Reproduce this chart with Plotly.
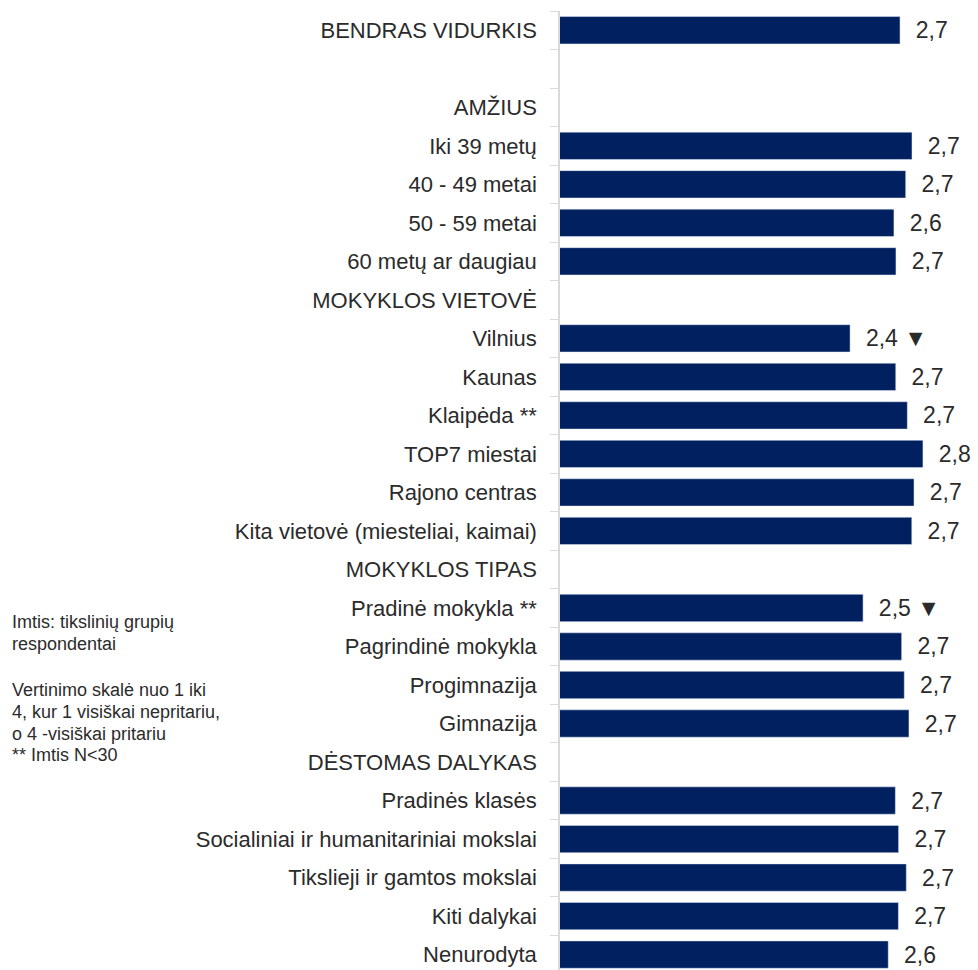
import plotly.graph_objects as go

# rows top to bottom; section headers and the spacer row have no bar
categories = [
    "BENDRAS VIDURKIS", " ",
    "AMŽIUS", "Iki 39 metų", "40 - 49 metai", "50 - 59 metai", "60 metų ar daugiau",
    "MOKYKLOS VIETOVĖ", "Vilnius", "Kaunas", "Klaipėda **", "TOP7 miestai",
    "Rajono centras", "Kita vietovė (miesteliai, kaimai)",
    "MOKYKLOS TIPAS", "Pradinė mokykla **", "Pagrindinė mokykla", "Progimnazija", "Gimnazija",
    "DĖSTOMAS DALYKAS", "Pradinės klasės", "Socialiniai ir humanitariniai mokslai",
    "Tikslieji ir gamtos mokslai", "Kiti dalykai", "Nenurodyta",
]
values = [
    2.675, None,
    None, 2.734, 2.703, 2.645, 2.655,
    None, 2.429, 2.654, 2.711, 2.788, 2.744, 2.733,
    None, 2.493, 2.683, 2.696, 2.719,
    None, 2.652, 2.668, 2.706, 2.667, 2.617,
]
value_labels = [
    "2,7", "",
    "", "2,7", "2,7", "2,6", "2,7",
    "", "2,4 ▼", "2,7", "2,7", "2,8", "2,7", "2,7",
    "", "2,5 ▼", "2,7", "2,7", "2,7",
    "", "2,7", "2,7", "2,7", "2,7", "2,6",
]
note_lines = [
    "Imtis: tikslinių grupių", "respondentai", "",
    "Vertinimo skalė nuo 1 iki", "4, kur 1 visiškai nepritariu,",
    "o 4 -visiškai pritariu", "** Imtis N<30",
]

FONT = "Liberation Sans, Arial, sans-serif"
TXT = "#2b2b2b"
W, H = 978, 970
L, T = 560, 11
PLOT_W, PLOT_H = W - L, H - T

fig = go.Figure(go.Bar(
    x=values, y=categories, orientation="h",
    marker=dict(color="#002060"),
    text=["  " + t if t else "" for t in value_labels],
    textposition="outside", constraintext="none", cliponaxis=False,
    textfont=dict(family=FONT, size=23, color=TXT),
    hoverinfo="skip",
))

fig.update_xaxes(range=[1, 1 + PLOT_W / 203], visible=False)
fig.update_yaxes(
    type="category", categoryorder="array", categoryarray=categories,
    range=[24.4, -0.5],
    showline=True, linecolor="#d9d9d9", linewidth=1.5,
    ticks="outside", tickson="boundaries", ticklen=8, tickcolor="#d9d9d9",
    ticklabelstandoff=17,
    tickfont=dict(family=FONT, size=22, color=TXT),
    showgrid=False, zeroline=False,
)

# side note, one annotation per line (small extra gap after the blank line)
for i, line in enumerate(note_lines):
    if not line:
        continue
    py = 622 + 21.7 * i + (3 if i > 2 else 0)
    fig.add_annotation(
        text=line, showarrow=False, align="left",
        xref="paper", yref="paper", x=(10 - L) / PLOT_W, y=1 - (py - T) / PLOT_H,
        xanchor="left", yanchor="middle",
        font=dict(family=FONT, size=18, color=TXT),
    )

fig.update_layout(
    width=W, height=H, bargap=0.29, showlegend=False,
    margin=dict(l=L, r=0, t=T, b=0),
    plot_bgcolor="white", paper_bgcolor="white",
)

fig.write_html("out.html", config={"displayModeBar": False},
               post_script="document.body.style.margin='0px';")
